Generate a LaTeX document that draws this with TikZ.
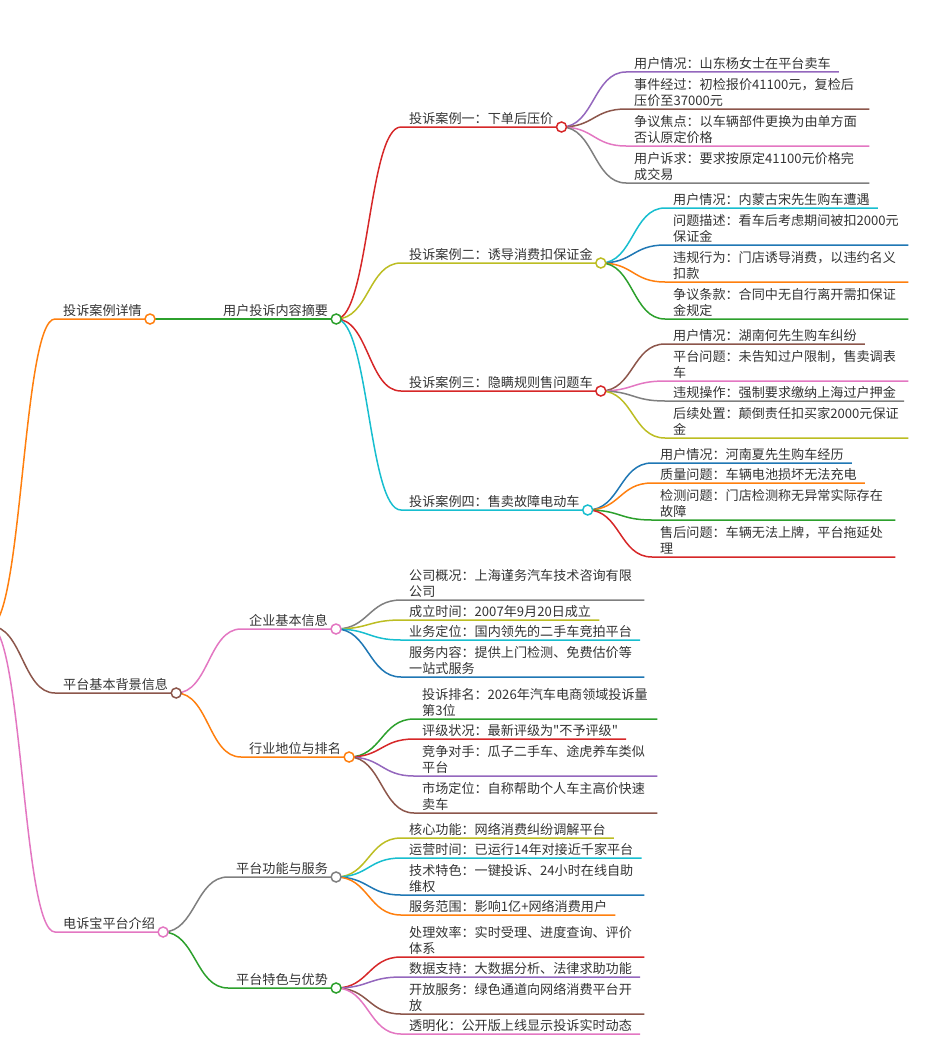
\documentclass[tikz,border=0pt]{standalone}
\usepackage{fontspec}
\usepackage{tikz}
\newfontfamily\cjk{Noto Sans CJK SC}
\definecolor{ink}{HTML}{333333}
\definecolor{mmblue}{HTML}{1F77B4}
\definecolor{mmorange}{HTML}{FF7F0E}
\definecolor{mmgreen}{HTML}{2CA02C}
\definecolor{mmred}{HTML}{D62728}
\definecolor{mmpurple}{HTML}{9467BD}
\definecolor{mmbrown}{HTML}{8C564B}
\definecolor{mmpink}{HTML}{E377C2}
\definecolor{mmgray}{HTML}{7F7F7F}
\definecolor{mmolive}{HTML}{BCBD22}
\definecolor{mmcyan}{HTML}{17BECF}
\tikzset{
  item/.style={anchor=south west, inner xsep=8pt, inner ysep=0pt, align=left, text=ink,
    font=\cjk\fontsize{13.1}{16.7}\selectfont, execute at end node={\rule[-3pt]{0pt}{0pt}}},
  wrap/.style={item, text width=227pt},
  link/.style={line width=1.5pt},
  dot/.style={line width=1.5pt, fill=white},
}

\begin{document}
\begin{tikzpicture}[x=1pt, y=-1pt]
    \useasboundingbox (0,0) rectangle (949,1049);
    \coordinate (root) at (-10,626); % root sits just off the left edge

    % First level
    \node[item] (cases) at (55,319) {投诉案例详情};
    \node[item] (basics) at (55,693) {平台基本背景信息};
    \node[item] (dsb) at (55,932) {电诉宝平台介绍};

    % Second level
    \node[item] (summary) at (215,319) {用户投诉内容摘要};
    \node[item] (company) at (241,629) {企业基本信息};
    \node[item] (ranking) at (241,757) {行业地位与排名};
    \node[item] (service) at (228,877) {平台功能与服务};
    \node[item] (merits) at (228,988) {平台特色与优势};

    % The four complaint cases
    \node[item] (case1) at (401,127) {投诉案例一：下单后压价};
    \node[item] (case2) at (401,263) {投诉案例二：诱导消费扣保证金};
    \node[item] (case3) at (401,391) {投诉案例三：隐瞒规则售问题车};
    \node[item] (case4) at (401,510) {投诉案例四：售卖故障电动车};

    % Case one
    \node[item] (c1a) at (626,72) {用户情况：山东杨女士在平台卖车};
    \node[wrap] (c1b) at (626,109) {事件经过：初检报价41100元，复检后\\压价至37000元};
    \node[wrap] (c1c) at (626,146) {争议焦点：以车辆部件更换为由单方面\\否认原定价格};
    \node[wrap] (c1d) at (626,183) {用户诉求：要求按原定41100元价格完\\成交易};

    % Case two
    \node[item] (c2a) at (665,208) {用户情况：内蒙古宋先生购车遭遇};
    \node[wrap] (c2b) at (665,245) {问题描述：看车后考虑期间被扣2000元\\保证金};
    \node[wrap] (c2c) at (665,282) {违规行为：门店诱导消费，以违约名义\\扣款};
    \node[wrap] (c2d) at (665,319) {争议条款：合同中无自行离开需扣保证\\金规定};

    % Case three
    \node[item] (c3a) at (665,344) {用户情况：湖南何先生购车纠纷};
    \node[wrap] (c3b) at (665,381) {平台问题：未告知过户限制，售卖调表\\车};
    \node[item] (c3c) at (665,401) {违规操作：强制要求缴纳上海过户押金};
    \node[wrap] (c3d) at (665,438) {后续处置：颠倒责任扣买家2000元保证\\金};

    % Case four
    \node[item] (c4a) at (652,463) {用户情况：河南夏先生购车经历};
    \node[item] (c4b) at (652,483) {质量问题：车辆电池损坏无法充电};
    \node[wrap] (c4c) at (652,520) {检测问题：门店检测称无异常实际存在\\故障};
    \node[wrap] (c4d) at (652,557) {售后问题：车辆无法上牌，平台拖延处\\理};

    % Company facts
    \node[wrap] (co1) at (401,600) {公司概况：上海谨务汽车技术咨询有限\\公司};
    \node[item] (co2) at (401,620) {成立时间：2007年9月20日成立};
    \node[item] (co3) at (401,640) {业务定位：国内领先的二手车竞拍平台};
    \node[wrap] (co4) at (401,677) {服务内容：提供上门检测、免费估价等\\一站式服务};

    % Industry position
    \node[wrap] (rk1) at (414,719) {投诉排名：2026年汽车电商领域投诉量\\第3位};
    \node[item] (rk2) at (414,739) {评级状况：最新评级为"不予评级"};
    \node[wrap] (rk3) at (414,776) {竞争对手：瓜子二手车、途虎养车类似\\平台};
    \node[wrap] (rk4) at (414,813) {市场定位：自称帮助个人车主高价快速\\卖车};

    % Platform functions
    \node[item] (sv1) at (401,838) {核心功能：网络消费纠纷调解平台};
    \node[item] (sv2) at (401,858) {运营时间：已运行14年对接近千家平台};
    \node[wrap] (sv3) at (401,895) {技术特色：一键投诉、24小时在线自助\\维权};
    \node[item] (sv4) at (401,915) {服务范围：影响1亿+网络消费用户};

    % Platform merits
    \node[wrap] (mr1) at (401,957) {处理效率：实时受理、进度查询、评价\\体系};
    \node[item] (mr2) at (401,977) {数据支持：大数据分析、法律求助功能};
    \node[wrap] (mr3) at (401,1014) {开放服务：绿色通道向网络消费平台开\\放};
    \node[item] (mr4) at (401,1034) {透明化：公开版上线显示投诉实时动态};

    % Branches with their underlines
    \foreach \c/\col in {cases/mmorange, basics/mmbrown, dsb/mmpink}
      \draw[link, \col] (root) .. controls +(32.5,0) and +(-32.5,0) .. (\c.south west) -- (\c.south east);
    \foreach \p/\c/\col in {cases/summary/mmgreen,
        summary/case1/mmred, summary/case2/mmolive, summary/case3/mmred, summary/case4/mmcyan,
        case1/c1a/mmpurple, case1/c1b/mmbrown, case1/c1c/mmpink, case1/c1d/mmgray,
        case2/c2a/mmcyan, case2/c2b/mmblue, case2/c2c/mmorange, case2/c2d/mmgreen,
        case3/c3a/mmbrown, case3/c3b/mmpink, case3/c3c/mmgray, case3/c3d/mmolive,
        case4/c4a/mmblue, case4/c4b/mmorange, case4/c4c/mmgreen, case4/c4d/mmred,
        basics/company/mmpink, basics/ranking/mmorange,
        company/co1/mmgray, company/co2/mmolive, company/co3/mmcyan, company/co4/mmblue,
        ranking/rk1/mmgreen, ranking/rk2/mmred, ranking/rk3/mmpurple, ranking/rk4/mmbrown,
        dsb/service/mmgray, dsb/merits/mmgreen,
        service/sv1/mmolive, service/sv2/mmcyan, service/sv3/mmblue, service/sv4/mmorange,
        merits/mr1/mmred, merits/mr2/mmpurple, merits/mr3/mmbrown, merits/mr4/mmpink}
      \draw[link, \col] (\p.south east) .. controls +(32.5,0) and +(-32.5,0) .. (\c.south west) -- (\c.south east);

    % Open circles at the end of each branch
    \foreach \n/\col in {cases/mmorange, basics/mmbrown, dsb/mmpink, summary/mmgreen,
        case1/mmred, case2/mmolive, case3/mmred, case4/mmcyan,
        company/mmpink, ranking/mmorange, service/mmgray, merits/mmgreen}
      \draw[draw=\col, dot] (\n.south east) circle (5pt);
\end{tikzpicture}
\end{document}
